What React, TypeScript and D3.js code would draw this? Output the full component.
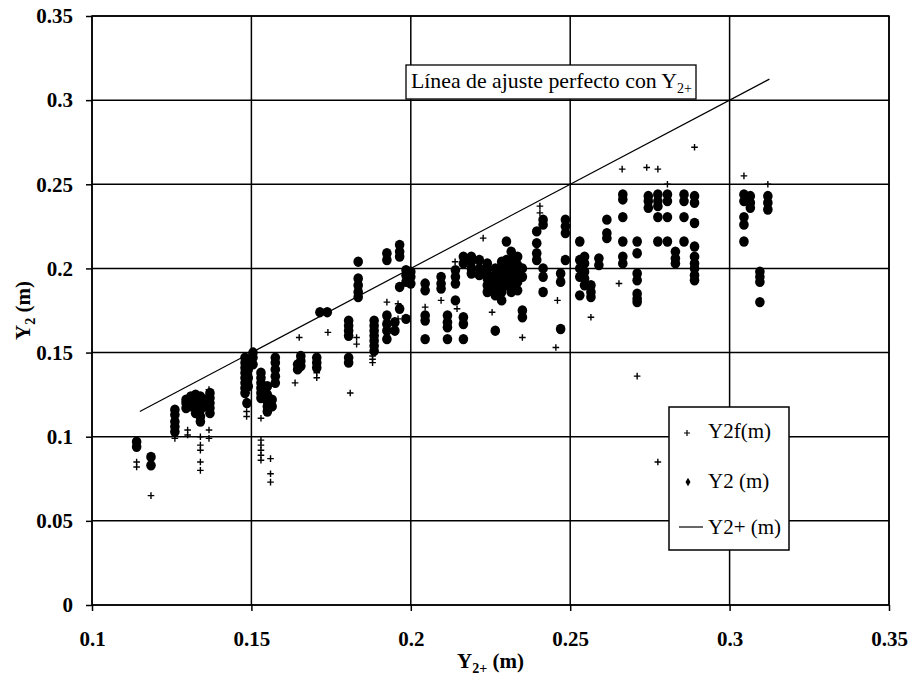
import { useRef, useEffect } from 'react'
import * as d3 from 'd3'

// Y2 (m) measured points, grouped by column: [Y2+, [Y2 values]]
const y2Columns: [number, number[]][] = [
  [0.114, [0.097, 0.094]],
  [0.1185, [0.088, 0.083]],
  [0.126, [0.116, 0.113, 0.109, 0.106, 0.103]],
  [0.1295, [0.122, 0.12, 0.117]],
  [0.131, [0.124, 0.121, 0.118]],
  [0.1325, [0.125, 0.122, 0.12, 0.117, 0.114]],
  [0.134, [0.124, 0.12, 0.116, 0.112, 0.109]],
  [0.1355, [0.122, 0.118]],
  [0.137, [0.126, 0.123, 0.12, 0.117, 0.114]],
  [0.148, [0.147, 0.144, 0.141, 0.138, 0.135, 0.132, 0.129, 0.126]],
  [0.1486, [0.12]],
  [0.149, [0.145, 0.14, 0.135, 0.13]],
  [0.1505, [0.15, 0.147, 0.143]],
  [0.153, [0.138, 0.135, 0.132, 0.129, 0.126, 0.123]],
  [0.155, [0.13, 0.125, 0.121, 0.118, 0.115]],
  [0.1565, [0.122, 0.118]],
  [0.1575, [0.147, 0.144, 0.14, 0.136, 0.132]],
  [0.1645, [0.143, 0.14]],
  [0.1655, [0.148, 0.145, 0.142]],
  [0.1705, [0.147, 0.144, 0.141]],
  [0.1715, [0.174]],
  [0.1738, [0.174]],
  [0.1805, [0.169, 0.166, 0.163, 0.16, 0.147, 0.144]],
  [0.1835, [0.204, 0.194, 0.19, 0.186, 0.183]],
  [0.1885, [0.169, 0.166, 0.163, 0.16, 0.157, 0.154, 0.151]],
  [0.1925, [0.209, 0.205, 0.172, 0.167, 0.163, 0.158]],
  [0.195, [0.168, 0.163]],
  [0.1965, [0.214, 0.21, 0.207, 0.189, 0.176]],
  [0.1985, [0.199, 0.196, 0.192, 0.17]],
  [0.2, [0.198, 0.195, 0.191]],
  [0.2045, [0.191, 0.187, 0.172, 0.169, 0.158]],
  [0.2095, [0.195, 0.191, 0.188]],
  [0.2115, [0.172, 0.168, 0.165, 0.158]],
  [0.214, [0.199, 0.195, 0.191, 0.181]],
  [0.2165, [0.207, 0.203, 0.171, 0.167, 0.158]],
  [0.219, [0.207, 0.204, 0.2, 0.197]],
  [0.2215, [0.205, 0.2, 0.196]],
  [0.224, [0.203, 0.2, 0.197, 0.194, 0.19, 0.186]],
  [0.2265, [0.2, 0.196, 0.192, 0.188, 0.184, 0.163]],
  [0.2285, [0.204, 0.199, 0.195, 0.19, 0.186, 0.181]],
  [0.23, [0.216, 0.205, 0.2, 0.195, 0.19]],
  [0.2315, [0.21, 0.205, 0.2, 0.195, 0.19, 0.186]],
  [0.2335, [0.207, 0.202, 0.197, 0.192, 0.187]],
  [0.235, [0.2, 0.195, 0.175, 0.171]],
  [0.2395, [0.222, 0.215, 0.209, 0.205]],
  [0.2415, [0.229, 0.226, 0.2, 0.195, 0.186]],
  [0.247, [0.197, 0.192, 0.164]],
  [0.2485, [0.229, 0.225, 0.221, 0.205]],
  [0.253, [0.216, 0.205, 0.2, 0.195, 0.184]],
  [0.2545, [0.207, 0.203, 0.198, 0.194, 0.19]],
  [0.2565, [0.19, 0.186, 0.183]],
  [0.259, [0.206, 0.202]],
  [0.2615, [0.229, 0.221, 0.218]],
  [0.2665, [0.244, 0.241, 0.2305, 0.216, 0.207, 0.203]],
  [0.271, [0.216, 0.209, 0.197, 0.193, 0.185, 0.182, 0.18]],
  [0.2745, [0.243, 0.24, 0.236]],
  [0.2775, [0.244, 0.24, 0.237, 0.2305, 0.216]],
  [0.2805, [0.244, 0.24, 0.2305, 0.216]],
  [0.283, [0.21, 0.206, 0.203]],
  [0.2857, [0.244, 0.24, 0.2305, 0.216]],
  [0.289, [0.243, 0.239, 0.227, 0.213, 0.207, 0.203, 0.2, 0.196, 0.193]],
  [0.3045, [0.244, 0.24, 0.2305, 0.226, 0.216]],
  [0.3065, [0.243, 0.239, 0.236]],
  [0.3095, [0.198, 0.195, 0.192, 0.18]],
  [0.312, [0.243, 0.239, 0.235]],
]

// Y2f(m) values, same layout
const y2fColumns: [number, number[]][] = [
  [0.114, [0.085, 0.082]],
  [0.1185, [0.088, 0.065]],
  [0.126, [0.101, 0.099]],
  [0.13, [0.104, 0.101]],
  [0.134, [0.1, 0.095, 0.092, 0.085, 0.08]],
  [0.1367, [0.128, 0.104, 0.099]],
  [0.1485, [0.126, 0.115, 0.112]],
  [0.153, [0.111, 0.098, 0.095, 0.092, 0.089, 0.086]],
  [0.156, [0.087, 0.078, 0.073]],
  [0.1637, [0.132]],
  [0.165, [0.159]],
  [0.1705, [0.138, 0.135]],
  [0.174, [0.162]],
  [0.181, [0.126]],
  [0.183, [0.159, 0.155]],
  [0.188, [0.148, 0.146, 0.144]],
  [0.1925, [0.18, 0.17]],
  [0.196, [0.179, 0.17]],
  [0.2045, [0.177]],
  [0.2095, [0.181]],
  [0.2139, [0.204]],
  [0.2145, [0.176]],
  [0.2227, [0.218]],
  [0.2255, [0.174]],
  [0.235, [0.159]],
  [0.2405, [0.237, 0.233]],
  [0.2455, [0.153]],
  [0.246, [0.181]],
  [0.249, [0.226]],
  [0.2565, [0.171]],
  [0.2653, [0.191]],
  [0.2663, [0.259]],
  [0.271, [0.136]],
  [0.274, [0.26]],
  [0.2775, [0.259, 0.085]],
  [0.2805, [0.25]],
  [0.289, [0.272]],
  [0.3045, [0.255]],
  [0.312, [0.25]],
]

// perfect-fit line Y2 = Y2+
const fitLine: [number, number][] = [
  [0.115, 0.115],
  [0.3125, 0.3125],
]

const xTicks = [0.1, 0.15, 0.2, 0.25, 0.3, 0.35]
const yTicks = [0, 0.05, 0.1, 0.15, 0.2, 0.25, 0.3, 0.35]

const serif = "'Liberation Serif', 'Times New Roman', Times, serif"

const App = () => {
  const svgRef = useRef<SVGSVGElement>(null)

  useEffect(() => {
    const svg = d3.select(svgRef.current)
    svg.selectAll('*').remove()

    const margin = { top: 16, right: 25, bottom: 77, left: 92 }
    const width = 914
    const height = 682
    const innerWidth = width - margin.left - margin.right
    const innerHeight = height - margin.top - margin.bottom

    const g = svg
      .append('g')
      .attr('transform', `translate(${margin.left} ${margin.top})`)

    const xScale = d3.scaleLinear().domain([0.1, 0.35]).range([0, innerWidth])
    const yScale = d3.scaleLinear().domain([0, 0.35]).range([innerHeight, 0])

    // grid lines
    g.append('g')
      .selectAll('line')
      .data(xTicks)
      .join('line')
      .attr('x1', (d) => xScale(d))
      .attr('x2', (d) => xScale(d))
      .attr('y1', 0)
      .attr('y2', innerHeight)
      .attr('stroke', '#000')
      .attr('stroke-width', 1.5)

    g.append('g')
      .selectAll('line')
      .data(yTicks)
      .join('line')
      .attr('x1', 0)
      .attr('x2', innerWidth)
      .attr('y1', (d) => yScale(d))
      .attr('y2', (d) => yScale(d))
      .attr('stroke', '#000')
      .attr('stroke-width', 1.5)

    g.append('rect')
      .attr('width', innerWidth)
      .attr('height', innerHeight)
      .attr('fill', 'none')
      .attr('stroke', '#000')
      .attr('stroke-width', 1.5)

    const fmt = (d: number) => String(d)

    const xAxis = d3
      .axisBottom(xScale)
      .tickValues(xTicks)
      .tickFormat((d) => fmt(d as number))
      .tickSize(6)
      .tickPadding(20)
    const yAxis = d3
      .axisLeft(yScale)
      .tickValues(yTicks)
      .tickFormat((d) => fmt(d as number))
      .tickSize(6)
      .tickPadding(13)

    const xg = g.append('g').attr('transform', `translate(0, ${innerHeight})`).call(xAxis)
    const yg = g.append('g').call(yAxis)
    ;[xg, yg].forEach((ax) => {
      ax.attr('font-family', null).attr('font-size', null)
      ax.select('.domain').remove()
      ax.selectAll('.tick line').attr('stroke', '#000').attr('stroke-width', 1.5)
      ax.selectAll('.tick text')
        .attr('fill', '#000')
        .style('font-family', serif)
        .style('font-weight', 'bold')
        .style('font-size', '21px')
    })

    // fit line
    const lineGen = d3
      .line<[number, number]>()
      .x((d) => xScale(d[0]))
      .y((d) => yScale(d[1]))
    g.append('path')
      .attr('d', lineGen(fitLine))
      .attr('fill', 'none')
      .attr('stroke', '#000')
      .attr('stroke-width', 1.2)

    const y2Points = y2Columns.flatMap(([x, ys]) => ys.map((y) => [x, y] as [number, number]))
    const y2fPoints = y2fColumns.flatMap(([x, ys]) => ys.map((y) => [x, y] as [number, number]))

    // Y2 markers
    g.append('g')
      .selectAll('ellipse')
      .data(y2Points)
      .join('ellipse')
      .attr('cx', (d) => xScale(d[0]))
      .attr('cy', (d) => yScale(d[1]))
      .attr('rx', 4.8)
      .attr('ry', 5.2)
      .attr('fill', '#000')

    // Y2f markers
    const plus = 3.3
    g.append('g')
      .selectAll('path')
      .data(y2fPoints)
      .join('path')
      .attr('transform', (d) => `translate(${xScale(d[0])},${yScale(d[1])})`)
      .attr('d', `M${-plus},0H${plus}M0,${-plus}V${plus}`)
      .attr('stroke', '#000')
      .attr('stroke-width', 1.4)

    // annotation
    const ann = svg.append('g')
    ann
      .append('rect')
      .attr('x', 406)
      .attr('y', 65)
      .attr('width', 290)
      .attr('height', 34)
      .attr('fill', '#fff')
      .attr('stroke', '#000')
      .attr('stroke-width', 1.3)
    const annText = ann
      .append('text')
      .attr('x', 411)
      .attr('y', 88)
      .style('font-family', serif)
      .style('font-size', '21.8px')
      .attr('fill', '#000')
    annText.append('tspan').text('Línea de ajuste perfecto con Y')
    annText.append('tspan').style('font-size', '14px').attr('dy', 5).text('2+')

    // legend
    const leg = svg.append('g')
    leg
      .append('rect')
      .attr('x', 669)
      .attr('y', 407)
      .attr('width', 120)
      .attr('height', 143)
      .attr('fill', '#fff')
      .attr('stroke', '#000')
      .attr('stroke-width', 1.5)
    const legItems = ['Y2f(m)', 'Y2 (m)', 'Y2+ (m)']
    const legY = [438, 488, 534]
    legItems.forEach((label, i) => {
      leg
        .append('text')
        .attr('x', 708)
        .attr('y', legY[i])
        .style('font-family', serif)
        .style('font-size', '21px')
        .attr('fill', '#000')
        .text(label)
    })
    leg
      .append('path')
      .attr('d', `M684,${legY[0] - 5}h6M687,${legY[0] - 8}v6`)
      .attr('stroke', '#000')
      .attr('stroke-width', 1.2)
    leg
      .append('path')
      .attr('d', d3.symbol(d3.symbolDiamond, 22)())
      .attr('transform', `translate(688,${legY[1] - 6})`)
      .attr('fill', '#000')
    leg
      .append('line')
      .attr('x1', 679)
      .attr('x2', 703)
      .attr('y1', legY[2] - 7)
      .attr('y2', legY[2] - 7)
      .attr('stroke', '#000')
      .attr('stroke-width', 1.2)

    // axis titles
    const xt = svg
      .append('text')
      .attr('x', margin.left + innerWidth / 2)
      .attr('y', 668)
      .attr('text-anchor', 'middle')
      .style('font-family', serif)
      .style('font-weight', 'bold')
      .style('font-size', '21px')
      .attr('fill', '#000')
    xt.append('tspan').text('Y')
    xt.append('tspan').style('font-size', '14px').attr('dy', 5).text('2+')
    xt.append('tspan').attr('dy', -5).text(' (m)')

    const yt = svg
      .append('text')
      .attr('transform', `translate(30, ${margin.top + innerHeight / 2}) rotate(-90)`)
      .attr('text-anchor', 'middle')
      .style('font-family', serif)
      .style('font-weight', 'bold')
      .style('font-size', '21px')
      .attr('fill', '#000')
    yt.append('tspan').text('Y')
    yt.append('tspan').style('font-size', '14px').attr('dy', 5).text('2')
    yt.append('tspan').attr('dy', -5).text(' (m)')
  }, [])

  return (
    <svg
      ref={svgRef}
      width={914}
      height={682}
      style={{ position: 'absolute', left: 0, top: 0, background: '#fff' }}
    ></svg>
  )
}

export default App
